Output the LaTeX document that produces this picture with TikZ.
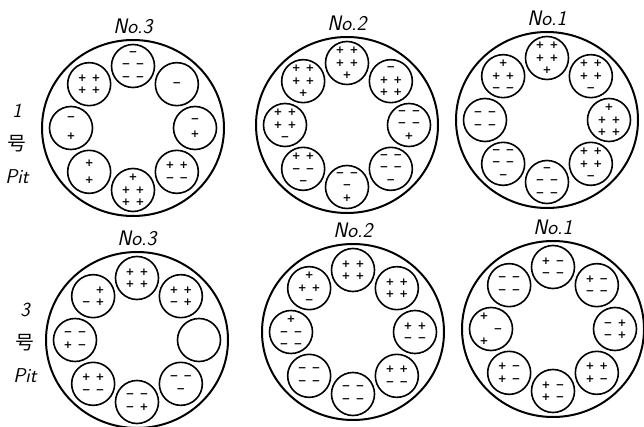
\documentclass[tikz,border=0pt]{standalone}
\usepackage{fontspec}
\newfontfamily\cjkfont{Noto Sans CJK SC}
\newfontfamily\signfont{DejaVu Sans}
\usetikzlibrary{calc, positioning, shapes.geometric}

\newcommand\gap{\hspace{5pt}}
% one pit: name, centre, label, the eight cells clockwise from the top
\newcommand\drum[4]{%
  \node[drum] (#1) at (#2) {};
  \node[tag, above=4pt of #1] (#1n) {#3};
  \foreach \ang/\txt [count=\k] in {#4}
    \node[cell] (#1c\k) at ($(#1)+(\ang:62)$) {\txt};
}

\begin{document}
\begin{tikzpicture}[x=1pt, y=-1pt, node distance=33pt,
    drum/.style={draw, ellipse, line width=2pt, minimum width=182pt, minimum height=176pt, inner sep=0pt},
    cell/.style={draw, circle, line width=1.6pt, minimum size=43pt, inner sep=0pt, align=center, font=\fontsize{10.5}{12.5}\selectfont\signfont\bfseries},
    tag/.style={font=\fontsize{21}{22}\selectfont\sffamily\itshape, inner sep=1pt},
    side/.style={font=\fontsize{20}{22}\selectfont\sffamily\itshape},
    cjk/.style={font=\fontsize{19}{20}\selectfont\cjkfont}]
  \useasboundingbox (0,0) rectangle (644,427);

  % pit 1
  \drum{t3}{133,128}{No.3}{-90/{−\\−\gap−\\−\gap−}, -45/{−}, 0/{−\\[3pt]+},
    45/{+\gap+\\−\gap−}, 90/{+\\+\gap+\\+\gap+}, 135/{+\\[5pt]+},
    180/{−\\[7pt]+}, 225/{+\gap+\\+\gap+}}
  \drum{t2}{347,125}{No.2}{-90/{+\gap+\\+\gap+\\+}, -45/{−\\+\gap+\\+\gap+},
    0/{−\gap−\\−\gap−\\+}, 45/{−\gap−\\−\gap−\\−}, 90/{−\gap−\\−\\+},
    135/{+\gap+\\−\gap−\\−}, 180/{+\gap+\\+\gap+\\−}, 225/{+\gap+\\+\gap+\\+}}
  \drum{t1}{547,120}{No.1}{-90/{+\gap+\\+\gap+\\+}, -45/{+\gap+\\+\gap+\\−},
    0/{+\\+\gap+\\+\gap+}, 45/{+\gap+\\+\gap+\\−}, 90/{−\\−\gap−\\−\gap−},
    135/{−\gap−\\−\gap−\\−}, 180/{−\gap−\\−\gap−}, 225/{+\\+\gap+\\−\gap−}}

  % pit 3
  \drum{b3}{137,340}{No.3}{-90/{+\gap+\\+\gap+}, -45/{+\gap+\\−\gap+}, 0/{},
    45/{−\gap−\\−}, 90/{−\gap−\\−\gap+}, 135/{+\gap+\\−\gap−},
    180/{−\gap−\\+\gap−}, 225/{\phantom{−}\gap+\\−\gap+}}
  \drum{b2}{353,332}{No.2}{-90/{+\gap+\\+\gap+}, -45/{+\gap+\\+\gap+},
    0/{+\gap+\\−\gap−}, 45/{+\gap+\\−\gap−}, 90/{−\gap−\\−\gap−},
    135/{−\gap−\\−\gap−}, 180/{+\\−\gap−\\−\gap−}, 225/{+\\+\gap+\\−}}
  \drum{b1}{553,329}{No.1}{-90/{+\gap−\\−\gap−}, -45/{+\gap−\\−\gap−},
    0/{−\gap+\\−\gap+}, 45/{+\gap+\\+\gap−}, 90/{+\gap−\\+\gap−},
    135/{+\gap−\\+\gap−}, 180/{+\gap\phantom{−}\\\phantom{+}\gap−\\+\gap\phantom{−}},
    225/{−\gap−\\−\gap−}}

  % row labels
  \node[side] (one) at (17,111) {1};
  \node[cjk, below of=one] (hao1) {号};
  \node[side, below of=hao1] (pit1) {Pit};
  \node[side] (three) at (25,310) {3};
  \node[cjk, below of=three] (hao3) {号};
  \node[side, below of=hao3] (pit3) {Pit};
\end{tikzpicture}
\end{document}
